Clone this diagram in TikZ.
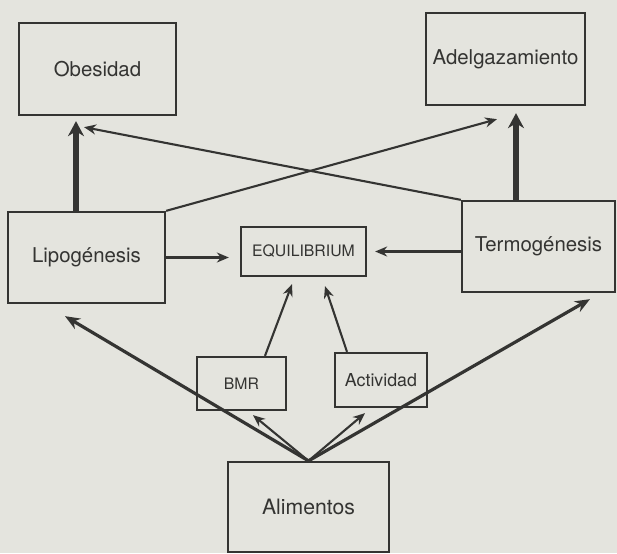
\documentclass[tikz,border=0pt]{standalone}
\usepackage{fontspec}
\setmainfont{TeX Gyre Heros}
\usetikzlibrary{arrows.meta,positioning}
\definecolor{paper}{RGB}{228,228,222}
\definecolor{ink}{RGB}{52,52,50}

\begin{document}
\begin{tikzpicture}[x=0.5pt,y=-0.5pt, every node/.style={font=\fontsize{10.2}{12}\selectfont,text=ink,align=center},
  box/.style={draw=ink,line width=1.15pt,inner sep=0pt},
  small/.style={font=\fontsize{7.9}{9}\selectfont},
  link/.style={draw=ink,line width=1.05pt,-{Stealth[length=6pt,width=5pt]}},
  wide/.style={draw=ink,line width=1.6pt,-{Stealth[length=7.5pt,width=6pt]}},
  heavy/.style={draw=ink,line width=3pt,-{Stealth[length=7.5pt,width=8pt]}}]
\fill[paper] (0,0) rectangle (617,553);
\useasboundingbox (0,0) rectangle (617,553);
\clip (0,0) rectangle (617,553);
\node[box,minimum width=78.5pt,minimum height=46pt] (obes) at (97.5,69) {Obesidad};
\node[box,minimum width=79.5pt,minimum height=46pt] (adel) at (505.5,59) {Adelgazamiento};
\node[box,minimum width=78.5pt,minimum height=45.5pt] (lipo) at (86.5,257.5) {Lipogénesis};
\node[box,small,minimum width=62.5pt,minimum height=24.5pt] (equi) at (303.5,251.5) {EQUILIBRIUM};
\node[box,minimum width=76.5pt,minimum height=45.5pt] (termo) at (538.5,246.5) {Termogénesis};
\node[box,small,minimum width=44.5pt,minimum height=26.5pt] (bmr) at (241.5,383.5) {BMR};
\node[box,font=\fontsize{8.9}{10}\selectfont,minimum width=46pt,minimum height=27pt] (act) at (381,380) {Actividad};
\node[box,font=\fontsize{10.6}{12}\selectfont,minimum width=80.5pt,minimum height=45pt] (alim) at (308.5,507) {Alimentos};
\draw[heavy,shorten >=2.5pt] ([xshift=-5.25pt]lipo.north) -- ([xshift=-5.25pt]lipo.north |- obes.south);
\draw[heavy,shorten >=3.5pt] ([xshift=-11.25pt]termo.north) -- ([xshift=-11.25pt]termo.north |- adel.south);
\draw[link] (termo.north west) -- ([xshift=-6.75pt,yshift=-5.5pt]obes.south);
\draw[link] (lipo.north east) -- ([xshift=-4.25pt,yshift=-6.5pt]adel.south);
\draw[link,shorten >=5.5pt] (lipo.east) -- (equi.west |- lipo.east);
\draw[link,shorten >=4pt] (termo.west |- equi.east) -- (equi.east);
\draw[link] ([xshift=11.75pt]bmr.north) -- ([xshift=-5.75pt,yshift=-3.5pt]equi.south);
\draw[link] ([xshift=-17pt]act.north) -- ([xshift=10.75pt,yshift=-4.5pt]equi.south);
\draw[link] (alim.north) -- ([xshift=5.75pt,yshift=-2pt]bmr.south);
\draw[link] (alim.north) -- ([xshift=-8pt,yshift=-2.5pt]act.south);
\draw[wide] (alim.north) -- ([xshift=-10.75pt,yshift=-6pt]lipo.south);
\draw[wide] (alim.north) -- ([xshift=25.75pt,yshift=-3pt]termo.south);
\end{tikzpicture}
\end{document}
